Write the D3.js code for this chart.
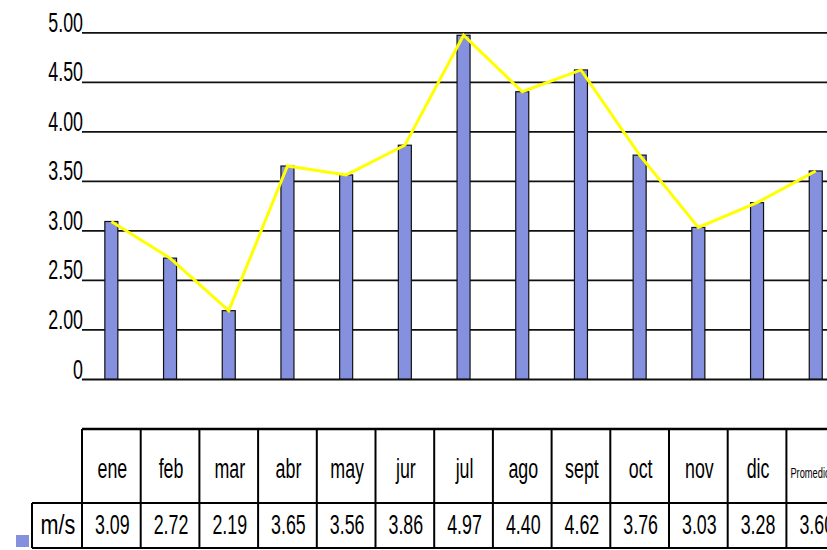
<!DOCTYPE html>
<html>
<head>
<meta charset="utf-8">
<script src="https://cdn.jsdelivr.net/npm/d3@7"></script>
<style>
  html, body { margin: 0; padding: 0; background: #fff; }
  svg { display: block; }
  text { font-family: "Liberation Sans", Arial, sans-serif; fill: #000; }
</style>
</head>
<body>
<svg id="chart" width="827" height="550"></svg>
<script>
// Monthly mean wind speed (m/s) plus the yearly average
const months = ["ene", "feb", "mar", "abr", "may", "jur", "jul", "ago", "sept", "oct", "nov", "dic", "Promedio"];
const speeds = [3.09, 2.72, 2.19, 3.65, 3.56, 3.86, 4.97, 4.40, 4.62, 3.76, 3.03, 3.28, 3.60];
const valueLabels = ["3.09", "2.72", "2.19", "3.65", "3.56", "3.86", "4.97", "4.40", "4.62", "3.76", "3.03", "3.28", "3.60"];
const tickValues = [1.5, 2.0, 2.5, 3.0, 3.5, 4.0, 4.5, 5.0];
const tickLabels = ["0", "2.00", "2.50", "3.00", "3.50", "4.00", "4.50", "5.00"];
const unitLabel = "m/s";

const W = 827, H = 550;
const plotLeft = 82, colW = 58.7;
const yTop = 32.3, yBase = 379;
const tableTop = 429, rowSplit = 503, tableBottom = 548, unitLeft = 32;
const squeeze = 0.66;          // narrow glyph width used throughout
const barFill = "#8591df";

const svg = d3.select("#chart");

const x = d3.scaleBand().domain(months).range([plotLeft, plotLeft + colW * months.length]).padding(0);
const y = d3.scaleLinear().domain([1.5, 5]).range([yBase, yTop]);
const barW = 13;

// horizontal gridlines with condensed tick labels
const yAxis = d3.axisLeft(y)
  .tickValues(tickValues)
  .tickSize(0)
  .tickPadding(0)
  .tickFormat((d, i) => tickLabels[i]);

const gAxis = svg.append("g").attr("transform", `translate(${plotLeft},0)`).call(yAxis);
gAxis.select(".domain").remove();
gAxis.selectAll(".tick line")
  .attr("x2", W - plotLeft)
  .attr("stroke", "#111")
  .attr("stroke-width", 1.8);
gAxis.selectAll(".tick text")
  .attr("x", null)
  .attr("dy", null)
  .attr("text-anchor", "end")
  .attr("font-size", 27)
  .attr("transform", `translate(1,-1) scale(${squeeze},1)`);

// bars
svg.append("g").selectAll("rect")
  .data(months)
  .join("rect")
  .attr("x", d => x(d) + x.bandwidth() / 2 - barW / 2)
  .attr("y", (d, i) => y(speeds[i]))
  .attr("width", barW)
  .attr("height", (d, i) => yBase - y(speeds[i]))
  .attr("fill", barFill)
  .attr("stroke", "#111")
  .attr("stroke-width", 1.2);

// trend line through the bar tops
const line = d3.line()
  .x((d, i) => x(months[i]) + x.bandwidth() / 2)
  .y(d => y(d));
svg.append("path")
  .datum(speeds)
  .attr("d", line)
  .attr("fill", "none")
  .attr("stroke", "#ffff00")
  .attr("stroke-width", 3)
  .attr("stroke-linejoin", "miter");

// data table below the plot
const tbl = svg.append("g");
const tableRight = plotLeft + colW * months.length;
const stroke = "#000";

tbl.append("line").attr("x1", plotLeft).attr("x2", W).attr("y1", tableTop).attr("y2", tableTop)
  .attr("stroke", stroke).attr("stroke-width", 2.4);
tbl.append("line").attr("x1", unitLeft).attr("x2", W).attr("y1", rowSplit).attr("y2", rowSplit)
  .attr("stroke", stroke).attr("stroke-width", 2);
tbl.append("line").attr("x1", unitLeft).attr("x2", W).attr("y1", tableBottom).attr("y2", tableBottom)
  .attr("stroke", stroke).attr("stroke-width", 2);
tbl.append("line").attr("x1", unitLeft).attr("x2", unitLeft).attr("y1", rowSplit).attr("y2", tableBottom)
  .attr("stroke", stroke).attr("stroke-width", 2);

const edges = months.map(m => x(m)).concat([tableRight]);
tbl.selectAll("line.col")
  .data(edges)
  .join("line")
  .attr("class", "col")
  .attr("x1", d => d).attr("x2", d => d)
  .attr("y1", tableTop).attr("y2", tableBottom)
  .attr("stroke", stroke).attr("stroke-width", 2);

// month header cells
tbl.selectAll("text.head")
  .data(months)
  .join("text")
  .attr("class", "head")
  .attr("text-anchor", d => d === "Promedio" ? "start" : "middle")
  .attr("font-size", d => d === "Promedio" ? 15 : 27)
  .attr("transform", d => d === "Promedio"
    ? `translate(${x(d) + 4},${478}) scale(0.62,1)`
    : `translate(${x(d) + x.bandwidth() / 2 + 1},${478}) scale(${squeeze},1)`)
  .text(d => d);

// value cells
tbl.selectAll("text.val")
  .data(valueLabels)
  .join("text")
  .attr("class", "val")
  .attr("text-anchor", "middle")
  .attr("font-size", 27)
  .attr("transform", (d, i) => `translate(${x(months[i]) + x.bandwidth() / 2 + 1},${534}) scale(${squeeze},1)`)
  .text(d => d);

tbl.append("text")
  .attr("text-anchor", "middle")
  .attr("font-size", 27)
  .attr("transform", `translate(${(unitLeft + plotLeft) / 2 + 1},${534}) scale(0.8,1)`)
  .text(unitLabel);

// legend key swatch
tbl.append("rect")
  .attr("x", 16).attr("y", 535).attr("width", 13).attr("height", 12)
  .attr("fill", barFill);
</script>
</body>
</html>
